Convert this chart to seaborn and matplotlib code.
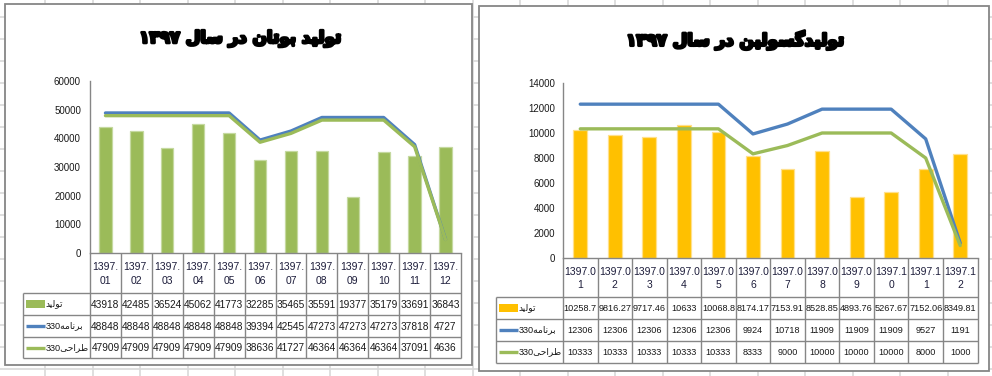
import numpy as np
import pandas as pd
import matplotlib
matplotlib.use('Agg')
import matplotlib.pyplot as plt
import seaborn as sns
from matplotlib.patches import Rectangle
from matplotlib import font_manager as fm
import matplotlib.patheffects as pe

# ---------------- data ----------------
months = ['1397.01', '1397.02', '1397.03', '1397.04', '1397.05', '1397.06',
          '1397.07', '1397.08', '1397.09', '1397.10', '1397.11', '1397.12']

butane_prod = [43918, 42485, 36524, 45062, 41773, 32285, 35465, 35591, 19377, 35179, 33691, 36843]
butane_plan = [48848, 48848, 48848, 48848, 48848, 39394, 42545, 47273, 47273, 47273, 37818, 4727]
butane_design = [47909, 47909, 47909, 47909, 47909, 38636, 41727, 46364, 46364, 46364, 37091, 4636]

gasoline_prod = [10258.7, 9816.27, 9717.46, 10633, 10068.8, 8174.17, 7153.91, 8528.85, 4893.76, 5267.67, 7152.06, 8349.81]
gasoline_plan = [12306, 12306, 12306, 12306, 12306, 9924, 10718, 11909, 11909, 11909, 9527, 1191]
gasoline_design = [10333, 10333, 10333, 10333, 10333, 8333, 9000, 10000, 10000, 10000, 8000, 1000]

title_butane = 'تولید بوتان در سال ۱۳۹۷'
title_gasoline = 'تولیدگسولین در سال ۱۳۹۷'
label_prod = 'تولید'
label_plan = 'برنامه330'
label_design = 'طراحی330'

# ---------------- arabic shaping (matplotlib has no shaping engine) ----------------
FORMS = {  # isolated, final, initial, medial
    '\u0627': ('\uFE8D', '\uFE8E', None, None),
    '\u0628': ('\uFE8F', '\uFE90', '\uFE91', '\uFE92'),
    '\u062A': ('\uFE95', '\uFE96', '\uFE97', '\uFE98'),
    '\u062D': ('\uFEA1', '\uFEA2', '\uFEA3', '\uFEA4'),
    '\u062F': ('\uFEA9', '\uFEAA', None, None),
    '\u0631': ('\uFEAD', '\uFEAE', None, None),
    '\u0633': ('\uFEB1', '\uFEB2', '\uFEB3', '\uFEB4'),
    '\u0637': ('\uFEC1', '\uFEC2', '\uFEC3', '\uFEC4'),
    '\u0644': ('\uFEDD', '\uFEDE', '\uFEDF', '\uFEE0'),
    '\u0645': ('\uFEE1', '\uFEE2', '\uFEE3', '\uFEE4'),
    '\u0646': ('\uFEE5', '\uFEE6', '\uFEE7', '\uFEE8'),
    '\u0647': ('\uFEE9', '\uFEEA', '\uFEEB', '\uFEEC'),
    '\u0648': ('\uFEED', '\uFEEE', None, None),
    '\u06CC': ('\uFBFC', '\uFBFD', '\uFBFE', '\uFBFF'),
    '\u06AF': ('\uFB92', '\uFB93', '\uFB94', '\uFB95'),
}


def shape(s):
    out = []
    for i, c in enumerate(s):
        if c not in FORMS:
            out.append(c)
            continue
        prev = s[i - 1] if i > 0 else ''
        nxt = s[i + 1] if i + 1 < len(s) else ''
        jp = prev in FORMS and FORMS[prev][2] is not None
        jn = nxt in FORMS and FORMS[c][2] is not None
        f = FORMS[c]
        if jp and jn:
            out.append(f[3])
        elif jp:
            out.append(f[1])
        elif jn:
            out.append(f[2])
        else:
            out.append(f[0])
    return ''.join(out)


def visual(s):
    sh = shape(s)
    runs = []
    for c in sh:
        t = c.isdigit() or c == '.'
        if runs and runs[-1][0] == t:
            runs[-1][1].append(c)
        else:
            runs.append([t, [c]])
    res = []
    for t, chars in reversed(runs):
        res.append(''.join(chars) if t else ''.join(reversed(chars)))
    return ''.join(res)


def has_font(name):
    try:
        fm.findfont(fm.FontProperties(family=name), fallback_to_default=False)
        return True
    except Exception:
        return False


if has_font('Liberation Sans Narrow'):
    NUM_FONT, K = 'Liberation Sans Narrow', 1.18
elif has_font('Liberation Sans'):
    NUM_FONT, K = 'Liberation Sans', 1.0
else:
    NUM_FONT, K = 'DejaVu Sans', 0.88
AR_FONT = 'DejaVu Sans'

# ---------------- figure ----------------
sns.set_theme(style='white')
plt.rcParams['font.family'] = [NUM_FONT, 'DejaVu Sans']
W, H = 992, 376
fig = plt.figure(figsize=(W / 100, H / 100), dpi=100)
fig.patch.set_facecolor('white')

fax = fig.add_axes([0, 0, 1, 1], zorder=0)
fax.set_xlim(0, W)
fax.set_ylim(H, 0)
fax.axis('off')

# spreadsheet grid in background
grid_cols = [45 + 47.5 * k for k in range(21)]
grid_rows = [17 + 22 * k for k in range(17)]
fax.vlines(grid_cols, 0, H, color='#d9d9d9', lw=1.2, zorder=0)
fax.hlines(grid_rows, 0, W, color='#d9d9d9', lw=1.2, zorder=0)

GRAY = '#868686'
TXT = '#1a1a1a'
BLUE = '#4F81BD'
GREEN = '#9BBB59'
ORANGE = '#FFC000'


def px_rect(x0, y0, x1, y1):
    return [x0 / W, 1 - y1 / H, (x1 - x0) / W, (y1 - y0) / H]


def wrap(s, n):
    return s[:n] + '\n' + s[n:]


def draw_chart(box, plot, title, title_xy, title_fs, prod, plan, design, bar_color,
               bar_edge, ymax, ystep, ylab_pad, table_left, row_ys, wrap_n, num_fs,
               cat_fs, cat_ls):
    bx0, by0, bx1, by1 = box
    fax.add_patch(Rectangle((bx0, by0), bx1 - bx0, by1 - by0, fc='white', ec=GRAY,
                            lw=1.3, zorder=1))
    fax.text(title_xy[0], title_xy[1], visual(title), ha='center', va='center',
             fontsize=title_fs, fontweight='bold', family=AR_FONT, color='black', zorder=3,
             path_effects=[pe.withStroke(linewidth=2.0, foreground='black')])

    x0, y0, x1, y1 = plot
    ax = fig.add_axes(px_rect(x0, y0, x1, y1), zorder=2)
    ax.set_facecolor('none')
    df = pd.DataFrame({'month': months, 'value': prod})
    sns.barplot(data=df, x='month', y='value', color=bar_color, width=0.4,
                saturation=1, edgecolor=bar_edge, linewidth=0.9, ax=ax)
    xs = np.arange(len(months))
    sns.lineplot(x=xs, y=plan, color=BLUE, lw=2.4, ax=ax)
    sns.lineplot(x=xs, y=design, color=GREEN, lw=2.4, ax=ax)
    ax.set_xlim(-0.5, len(months) - 0.5)
    ax.set_ylim(0, ymax)
    ticks = np.arange(0, ymax + 1, ystep)
    ax.set_yticks(ticks)
    ax.set_yticklabels([str(v) for v in ticks])
    ax.tick_params(axis='y', length=0, pad=ylab_pad, labelsize=7.0 * K, labelcolor=TXT)
    ax.set_xticks([])
    ax.set_xlabel('')
    ax.set_ylabel('')
    for s in ['top', 'right']:
        ax.spines[s].set_visible(False)
    for s in ['left', 'bottom']:
        ax.spines[s].set_color(GRAY)
        ax.spines[s].set_linewidth(1.0)

    # data table
    n = len(months)
    edges = np.linspace(x0, x1, n + 1)
    centers = (edges[:-1] + edges[1:]) / 2
    fax.vlines(edges, y1, row_ys[-1], color=GRAY, lw=1.0, zorder=2)
    fax.vlines([table_left], row_ys[0], row_ys[-1], color=GRAY, lw=1.0, zorder=2)
    fax.hlines(row_ys, table_left, x1, color=GRAY, lw=1.0, zorder=2)
    for cx, m in zip(centers, months):
        fax.text(cx, (y1 + row_ys[0]) / 2 + 1, wrap(m, wrap_n), ha='center', va='center',
                 fontsize=cat_fs, color='#1c1c3a', linespacing=cat_ls, zorder=3)
    rows = [prod, plan, design]
    for r, vals in enumerate(rows):
        cy = (row_ys[r] + row_ys[r + 1]) / 2 + 0.5
        for cx, v in zip(centers, vals):
            fax.text(cx, cy, '%.6g' % v, ha='center', va='center', fontsize=num_fs,
                     color=TXT, zorder=3)
    # legend keys
    kx0, kx1 = table_left + 3, table_left + 22
    cy = (row_ys[0] + row_ys[1]) / 2
    fax.add_patch(Rectangle((kx0, cy - 4), kx1 - kx0, 8, fc=bar_color, ec='none', zorder=3))
    keys = [(label_prod, None), (label_plan, BLUE), (label_design, GREEN)]
    for r, (lab, col) in enumerate(keys):
        cy = (row_ys[r] + row_ys[r + 1]) / 2
        if col is not None:
            fax.plot([kx0, kx1], [cy, cy], color=col, lw=2.4, zorder=3,
                     solid_capstyle='butt')
        fax.text(kx1 + 1, cy, visual(lab), ha='left', va='center', fontsize=6.6,
                 family=[NUM_FONT, AR_FONT], color=TXT, zorder=3)
    return ax


draw_chart(box=(5, 4, 472, 365), plot=(90, 81, 461, 253), title=title_butane,
           title_xy=(240, 38), title_fs=12, prod=butane_prod, plan=butane_plan,
           design=butane_design, bar_color=GREEN, bar_edge='#c5d9a0', ymax=60000,
           ystep=10000, ylab_pad=6.5, table_left=22.7, row_ys=[293, 315, 337, 358.3],
           wrap_n=5, num_fs=7.3 * K, cat_fs=7.5 * K, cat_ls=1.55)

draw_chart(box=(479, 6, 989, 371), plot=(563, 83, 977.5, 258), title=title_gasoline,
           title_xy=(735, 40), title_fs=12, prod=gasoline_prod, plan=gasoline_plan,
           design=gasoline_design, bar_color=ORANGE, bar_edge='#ffe08c', ymax=14000,
           ystep=2000, ylab_pad=5.8, table_left=495.7, row_ys=[297, 319, 341, 363],
           wrap_n=6, num_fs=6.6 * K, cat_fs=7.5 * K, cat_ls=1.45)

fig.savefig('out.png', dpi=100)
